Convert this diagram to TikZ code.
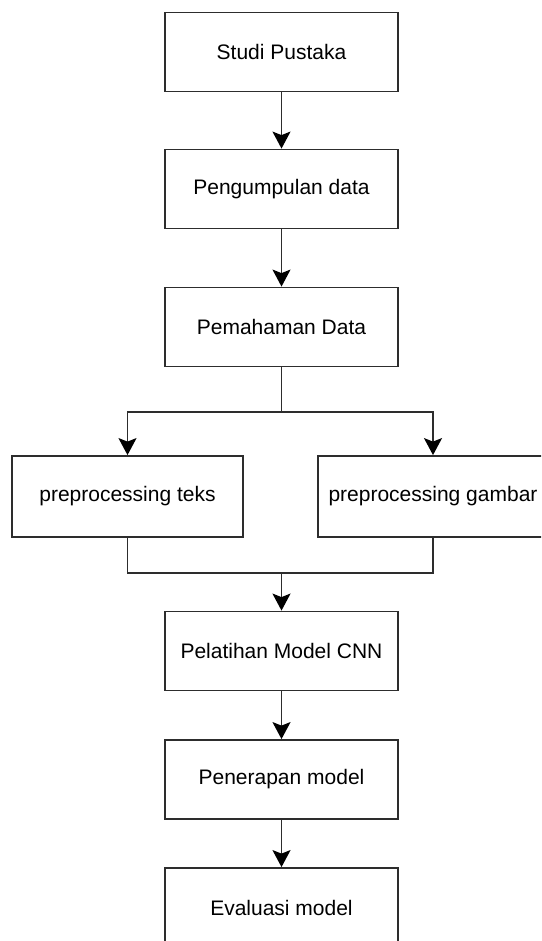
\documentclass[tikz,border=0pt]{standalone}
\usepackage{fontspec}
\setmainfont{Liberation Sans}
\usetikzlibrary{arrows.meta}
\definecolor{edge}{RGB}{45,45,45}
\begin{document}
\begin{tikzpicture}[x=1pt,y=-1pt,
  stepbox/.style={draw=edge, line width=1.8pt, fill=white, minimum width=233pt,
    minimum height=79pt, inner sep=0pt, font=\fontsize{21}{25}\selectfont},
  link/.style={draw=edge, line width=1.8pt},
  arr/.style={link, -{Stealth[length=17pt,width=18pt,inset=3.5pt,color=black]}}]
  % canvas
  \clip (0,0) rectangle (541,941);
  \fill[white] (0,0) rectangle (541,941);

  % main column
  \node[stepbox] (s1)  at (281.5,52)    {Studi Pustaka};
  \node[stepbox] (s2)  at (281.5,189)   {Pengumpulan data};
  \node[stepbox] (s3)  at (281.5,327)   {Pemahaman Data};
  % parallel preprocessing branches
  \node[stepbox, minimum width=231pt, minimum height=81pt] (pt) at (127.5,496.5) {preprocessing teks};
  \node[stepbox, minimum width=230pt, minimum height=81pt] (pg) at (433,496.5)   {preprocessing gambar};
  % lower column
  \node[stepbox] (cnn) at (281.5,651)   {Pelatihan Model CNN};
  \node[stepbox] (pm)  at (281.5,779.5) {Penerapan model};
  \node[stepbox] (ev)  at (281.5,907.5) {Evaluasi model};

  \coordinate (split) at (281.5,412);
  \coordinate (merge) at (281.5,573);

  % connectors
  \draw[arr] (s1) -- (s2);
  \draw[arr] (s2) -- (s3);
  \draw[link] (s3.south) -- (split);
  \draw[arr] (split) -| (pt.north);
  \draw[arr] (split) -| (pg.north);
  \draw[link] (pt.south) |- (merge);
  \draw[link] (pg.south) |- (merge);
  \draw[arr] (merge) -- (cnn.north);
  \draw[arr] (cnn) -- (pm);
  \draw[arr] (pm) -- (ev);
\end{tikzpicture}
\end{document}
